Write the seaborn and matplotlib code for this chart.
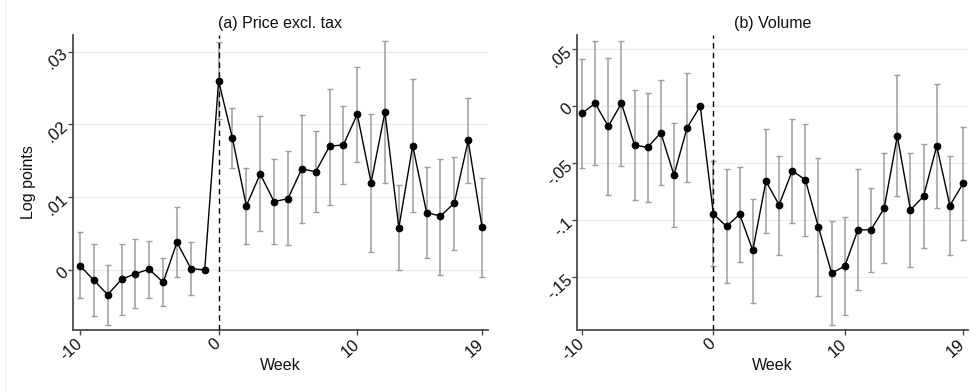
import numpy as np
import pandas as pd
import matplotlib
matplotlib.use("Agg")
import matplotlib.pyplot as plt
import seaborn as sns
from matplotlib.lines import Line2D

# Event-study estimates by week relative to the tax change (week -1 is the reference)
weeks = list(range(-10, 20))

price_coef = [0.0006, -0.0014, -0.0034, -0.0013, -0.0005, 0.0001, -0.0017, 0.0038, 0.0002, 0.0,
              0.0260, 0.0181, 0.0088, 0.0132, 0.0094, 0.0098, 0.0139, 0.0135, 0.0170, 0.0172,
              0.0214, 0.0120, 0.0217, 0.0058, 0.0171, 0.0079, 0.0074, 0.0092, 0.0178, 0.0059]
price_hi = [0.0052, 0.0036, 0.0007, 0.0036, 0.0042, 0.0040, 0.0016, 0.0086, 0.0039, np.nan,
            0.0314, 0.0223, 0.0140, 0.0211, 0.0153, 0.0163, 0.0213, 0.0191, 0.0249, 0.0226,
            0.0279, 0.0215, 0.0315, 0.0117, 0.0262, 0.0141, 0.0153, 0.0155, 0.0236, 0.0127]
price_lo = [-0.0038, -0.0063, -0.0075, -0.0062, -0.0052, -0.0038, -0.0049, -0.0009, -0.0035, np.nan,
            0.0207, 0.0140, 0.0036, 0.0053, 0.0036, 0.0034, 0.0065, 0.0080, 0.0090, 0.0118,
            0.0148, 0.0025, 0.0119, 0.0000, 0.0080, 0.0017, -0.0007, 0.0028, 0.0119, -0.0009]

volume_coef = [-0.0062, 0.0026, -0.0176, 0.0026, -0.0340, -0.0361, -0.0232, -0.0604, -0.0188, 0.0,
               -0.0944, -0.1053, -0.0947, -0.1264, -0.0657, -0.0865, -0.0566, -0.0645, -0.1062, -0.1463,
               -0.1402, -0.1085, -0.1082, -0.0894, -0.0261, -0.0909, -0.0789, -0.0349, -0.0871, -0.0677]
volume_hi = [0.0416, 0.0569, 0.0425, 0.0575, 0.0144, 0.0114, 0.0226, -0.0150, 0.0290, np.nan,
             -0.0484, -0.0551, -0.0531, -0.0809, -0.0196, -0.0434, -0.0109, -0.0152, -0.0457, -0.1003,
             -0.0974, -0.0554, -0.0713, -0.0411, 0.0276, -0.0408, -0.0334, 0.0196, -0.0437, -0.0182]
volume_lo = [-0.0543, -0.0519, -0.0777, -0.0528, -0.0824, -0.0836, -0.0689, -0.1062, -0.0666, np.nan,
             -0.1405, -0.1551, -0.1370, -0.1721, -0.1114, -0.1302, -0.1026, -0.1141, -0.1666, -0.1921,
             -0.1830, -0.1613, -0.1449, -0.1375, -0.0789, -0.1413, -0.1243, -0.0894, -0.1308, -0.1176]

price_yticks = [0.0, 0.01, 0.02, 0.03]
price_yticklabels = ["0", ".01", ".02", ".03"]
volume_yticks = [-0.15, -0.10, -0.05, 0.0, 0.05]
volume_yticklabels = ["-.15", "-.1", "-.05", "0", ".05"]
xticks = [-10, 0, 10, 19]
xticklabels = ["-10", "0", "10", "19"]

sns.set_theme(style="white")
plt.rcParams["font.family"] = ["Liberation Sans", "DejaVu Sans"]
plt.rcParams["axes.unicode_minus"] = False

W, H = 971, 391
fig = plt.figure(figsize=(W / 100, H / 100), dpi=100)
fig.patch.set_facecolor("white")


def px_axes(left, top, right, bottom):
    return fig.add_axes([left / W, 1 - bottom / H, (right - left) / W, (bottom - top) / H])


ax_a = px_axes(73, 35, 488, 330)
ax_b = px_axes(577, 35, 968, 330)

panels = [
    (ax_a, "(a) Price excl. tax", price_coef, price_lo, price_hi,
     price_yticks, price_yticklabels, (-0.00825, 0.0323), (-10.5, 19.43), "Log points"),
    (ax_b, "(b) Volume", volume_coef, volume_lo, volume_hi,
     volume_yticks, volume_yticklabels, (-0.1962, 0.0625), (-10.38, 19.38), ""),
]

spine_col = "#4d4d4d"
text_col = "#111111"
tick_angle = 42
for ax, title, coef, lo, hi, yt, ytl, ylim, xlim, ylab in panels:
    df = pd.DataFrame({"week": weeks, "coef": coef, "lo": lo, "hi": hi})
    ax.set_facecolor("white")
    for y in yt:
        ax.axhline(y, color="#e7eef0", lw=0.9, zorder=0)

    err = np.vstack([df["coef"] - df["lo"], df["hi"] - df["coef"]])
    ax.errorbar(df["week"], df["coef"], yerr=err, fmt="none", ecolor="#9d9d9d",
                elinewidth=1.1, capsize=2.2, capthick=1.0, zorder=2)
    ax.axvline(0, color="black", lw=1.0, ls=(0, (4, 3)), zorder=3)
    sns.lineplot(data=df, x="week", y="coef", ax=ax, color="black", lw=1.0,
                 marker="o", markersize=4.8, markeredgecolor="black",
                 markerfacecolor="black", errorbar=None, zorder=4)

    ax.set_xlim(*xlim)
    ax.set_ylim(*ylim)
    ax.set_xticks(xticks)
    ax.set_yticks(yt)
    ax.set_xticklabels(xticklabels)
    ax.set_yticklabels(ytl)
    ax.tick_params(axis="both", direction="out", length=3.5, width=1.0,
                   color=spine_col, labelcolor=text_col, labelsize=12)
    ax.tick_params(axis="x", pad=5)
    ax.tick_params(axis="y", pad=1.5)
    ax.tick_params(axis="both", which="both", bottom=True, left=True)
    for lab in ax.get_xticklabels():
        lab.set_rotation(tick_angle)
        lab.set_rotation_mode("anchor")
        lab.set_ha("right")
        lab.set_va("center")
    for lab in ax.get_yticklabels():
        lab.set_rotation(tick_angle)
        lab.set_rotation_mode("anchor")
        lab.set_ha("right")
        lab.set_va("center")
    for side in ("top", "right"):
        ax.spines[side].set_visible(False)
    for side in ("left", "bottom"):
        ax.spines[side].set_visible(True)
        ax.spines[side].set_color(spine_col)
        ax.spines[side].set_linewidth(1.3)
    ax.grid(False)
    ax.set_title(title, fontsize=11.5, pad=5, color=text_col)
    ax.set_xlabel("Week", fontsize=11.5, color=text_col, va="center")
    ax.xaxis.set_label_coords(0.5, -(365 - 330) / 295)
    if ylab:
        ax.set_ylabel(ylab, fontsize=11.5, color=text_col, va="center")
        ax.yaxis.set_label_coords(-(73 - 28) / 415, 0.5)
    else:
        ax.set_ylabel("")

# faint frame edge on the left of the first panel
fig.add_artist(Line2D([5 / W, 5 / W], [0, 1], transform=fig.transFigure,
                      color="#edf2f3", lw=1.0))

fig.savefig("out.png", dpi=100, facecolor="white")
